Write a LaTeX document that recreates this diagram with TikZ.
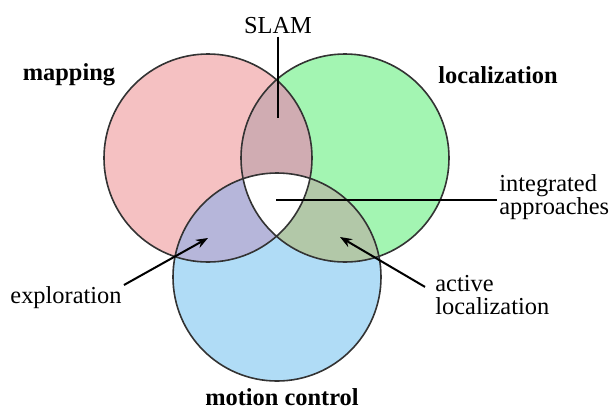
\documentclass[tikz,border=0pt]{standalone}
\usepackage{fontspec}
\newfontfamily\vennfont{Liberation Serif}
\usetikzlibrary{arrows.meta}
\usetikzlibrary{positioning}
\definecolor{mapcol}{RGB}{245,193,194}
\definecolor{loccol}{RGB}{163,245,178}
\definecolor{motcol}{RGB}{176,220,246}
\definecolor{slamcol}{RGB}{208,172,178}
\definecolor{explcol}{RGB}{182,182,218}
\definecolor{actcol}{RGB}{178,200,168}
\newcommand{\vennr}{104}

\begin{document}
\begin{tikzpicture}[x=0.5pt,y=-0.5pt,
                    >={Stealth[length=6pt,width=4.5pt]},
                    venn/.style={draw=black!80, line width=0.8pt},
                    conn/.style={line width=1pt},
                    lbl/.style={font=\vennfont\fontsize{12.2}{11.5}\selectfont, inner sep=1pt, align=left},
                    cat/.style={font=\vennfont\fontsize{12.2}{14}\selectfont\bfseries, inner sep=1pt}
                    ]
  \useasboundingbox (0,0) rectangle (611,408);
  \coordinate (map) at (208,158);
  \coordinate (loc) at (345,158);
  \coordinate (mot) at (277,277);
  % circles
  \fill[mapcol] (map) circle (\vennr);
  \fill[loccol] (loc) circle (\vennr);
  \fill[motcol] (mot) circle (\vennr);
  \begin{scope}
    \clip (map) circle (\vennr);
    \fill[slamcol] (loc) circle (\vennr);
    \fill[explcol] (mot) circle (\vennr);
  \end{scope}
  \begin{scope}
    \clip (loc) circle (\vennr);
    \fill[actcol] (mot) circle (\vennr);
  \end{scope}
  \begin{scope}
    \clip (map) circle (\vennr);
    \clip (loc) circle (\vennr);
    \fill[white] (mot) circle (\vennr);
  \end{scope}
  \draw[venn] (map) circle (\vennr);
  \draw[venn] (loc) circle (\vennr);
  \draw[venn] (mot) circle (\vennr);
  % labels
  \node[cat] (mapping) at (69,75) {mapping};
  \node[cat] (localization) at (498,75) {localization};
  \node[cat] (motion) at (282,397) {motion control};
  \node[lbl] (slam) at (278,26) {SLAM};
  \node[lbl, anchor=west] (integ) at (497,197) {integrated\\approaches};
  \node[lbl] (explo) at (66,298) {exploration};
  \node[lbl, anchor=west] (actloc) at (433,295) {active\\localization};
  % pointers
  \coordinate (slamtip) at (278,118);
  \coordinate (integtip) at (276,200);
  \coordinate (explotip) at (208,238);
  \coordinate (actloctip) at (340,237);
  \draw[conn] (slam) -- (slamtip);
  \draw[conn] (integ.west |- integtip) -- (integtip);
  \draw[conn,->] ([yshift=6.5pt]explo.east) -- (explotip);
  \draw[conn,->] ([shift={(-4pt,-7pt)}]actloc.north west) -- (actloctip);
\end{tikzpicture}
\end{document}
